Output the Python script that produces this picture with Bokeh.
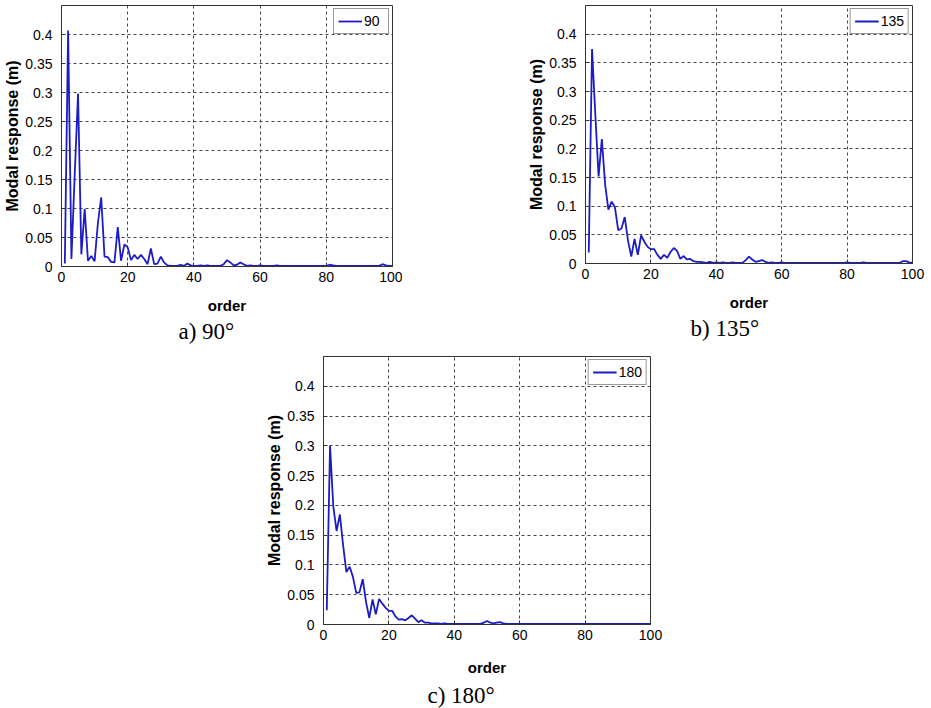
from bokeh.plotting import figure
from bokeh.layouts import column, row
from bokeh.models import Range1d, FixedTicker, CustomJSTickFormatter, Spacer
from bokeh.embed import file_html
from bokeh.resources import INLINE

orders = list(range(1, 101))

resp_90 = [0.005, 0.407, 0.013, 0.16, 0.298, 0.021, 0.099, 0.010, 0.018, 0.009,
           0.075, 0.119, 0.017, 0.016, 0.008, 0.007, 0.068, 0.010, 0.038, 0.033,
           0.011, 0.020, 0.013, 0.020, 0.013, 0.004, 0.031, 0.004, 0.005, 0.017,
           0.007, 0.002, 0.001, 0.001, 0.001, 0.003, 0.001, 0.005, 0.002, 0.001,
           0.001, 0.002, 0.001, 0.002, 0.001, 0.001, 0.001, 0.001, 0.004, 0.011,
           0.007, 0.002, 0.003, 0.007, 0.004, 0.001, 0.002, 0.001, 0.001, 0.002,
           0.001, 0.001, 0.001, 0.001, 0.002, 0.001, 0.001, 0.001, 0.001, 0.001,
           0.001, 0.001, 0.001, 0.001, 0.001, 0.001, 0.001, 0.001, 0.001, 0.001,
           0.003, 0.002, 0.001, 0.001, 0.001, 0.001, 0.001, 0.001, 0.001, 0.001,
           0.001, 0.001, 0.001, 0.001, 0.001, 0.001, 0.004, 0.002, 0.001, 0.001]

resp_135 = [0.019, 0.374, 0.26, 0.152, 0.217, 0.138, 0.094, 0.108, 0.098, 0.058,
            0.061, 0.081, 0.040, 0.012, 0.043, 0.015, 0.049, 0.038, 0.029, 0.025,
            0.025, 0.015, 0.008, 0.015, 0.010, 0.020, 0.027, 0.022, 0.008, 0.013,
            0.007, 0.008, 0.004, 0.003, 0.003, 0.002, 0.001, 0.003, 0.001, 0.002,
            0.001, 0.002, 0.001, 0.001, 0.002, 0.001, 0.001, 0.001, 0.006, 0.012,
            0.007, 0.003, 0.004, 0.006, 0.003, 0.001, 0.002, 0.001, 0.001, 0.002,
            0.001, 0.001, 0.001, 0.001, 0.001, 0.001, 0.001, 0.001, 0.001, 0.001,
            0.001, 0.001, 0.001, 0.001, 0.001, 0.001, 0.001, 0.001, 0.001, 0.002,
            0.001, 0.001, 0.001, 0.001, 0.002, 0.001, 0.001, 0.001, 0.001, 0.001,
            0.001, 0.001, 0.001, 0.001, 0.001, 0.001, 0.004, 0.004, 0.002, 0.001]

resp_180 = [0.024, 0.300, 0.198, 0.157, 0.185, 0.133, 0.088, 0.097, 0.080, 0.053,
            0.054, 0.076, 0.038, 0.011, 0.042, 0.017, 0.043, 0.035, 0.028, 0.023,
            0.023, 0.0135, 0.008, 0.009, 0.007, 0.011, 0.0155, 0.010, 0.004, 0.007,
            0.003, 0.003, 0.002, 0.002, 0.002, 0.001, 0.002, 0.001, 0.001, 0.001,
            0.001, 0.001, 0.001, 0.001, 0.001, 0.001, 0.001, 0.001, 0.003, 0.006,
            0.003, 0.002, 0.003, 0.004, 0.002, 0.001, 0.001, 0.001, 0.001, 0.001,
            0.001, 0.001, 0.001, 0.001, 0.001, 0.001, 0.001, 0.001, 0.001, 0.001,
            0.001, 0.001, 0.001, 0.001, 0.001, 0.001, 0.001, 0.001, 0.001, 0.001,
            0.001, 0.001, 0.001, 0.001, 0.001, 0.001, 0.001, 0.001, 0.001, 0.001,
            0.001, 0.001, 0.001, 0.001, 0.001, 0.001, 0.001, 0.001, 0.001, 0.001]

x_ticks = [0, 20, 40, 60, 80, 100]
y_ticks = [0, 0.05, 0.1, 0.15, 0.2, 0.25, 0.3, 0.35, 0.4]

LINE = "#1c1cc4"


def make_panel(ys, name, caption, fw, fh, bl, br, bt, bb, cap_offset,
               xlab_standoff, cap_standoff):
    p = figure(frame_width=fw, frame_height=fh, output_backend="svg", toolbar_location=None,
               x_range=Range1d(0, 100), y_range=Range1d(0, 0.45),
               min_border_left=bl, min_border_right=br, min_border_top=bt,
               min_border_bottom=bb, title=caption, title_location="below")
    p.line(orders, ys, line_color=LINE, line_width=1.8, legend_label=name)

    p.title.text_font = "Liberation Serif"
    p.title.text_font_size = "23px"
    p.title.text_font_style = "normal"
    p.title.text_color = "black"
    p.title.align = "left"
    p.title.offset = cap_offset
    p.title.standoff = cap_standoff

    p.outline_line_color = "#333333"
    p.outline_line_width = 1
    p.background_fill_color = "white"
    p.border_fill_color = "white"

    p.xaxis.ticker = FixedTicker(ticks=x_ticks)
    p.yaxis.ticker = FixedTicker(ticks=y_ticks)
    p.yaxis.formatter = CustomJSTickFormatter(code="return Number(tick.toFixed(2)).toString();")
    for ax in (p.xaxis, p.yaxis):
        ax.major_tick_in = 4
        ax.major_tick_out = 0
        ax.minor_tick_line_color = None
        ax.axis_line_color = "#333333"
        ax.major_tick_line_color = "#333333"
        ax.major_label_text_font = "Liberation Sans"
        ax.major_label_text_font_size = "14px"
        ax.major_label_text_color = "black"
        ax.axis_label_text_font = "Liberation Sans"
        ax.axis_label_text_font_style = "bold"
        ax.axis_label_text_color = "black"
    p.xaxis.axis_label = "order"
    p.xaxis.axis_label_text_font_size = "15px"
    p.xaxis.major_label_standoff = 5
    p.xaxis.axis_label_standoff = xlab_standoff
    p.yaxis.axis_label = "Modal response (m)"
    p.yaxis.axis_label_text_font_size = "16px"
    p.yaxis.major_label_standoff = 9
    p.yaxis.axis_label_standoff = 1

    p.grid.grid_line_color = "#444444"
    p.grid.grid_line_dash = "3 3"
    p.grid.grid_line_width = 1
    p.grid.grid_line_alpha = 1

    lg = p.legend[0]
    lg.location = "top_right"
    lg.margin = 3
    lg.padding = 4
    lg.spacing = 0
    lg.glyph_width = 24
    lg.glyph_height = 16
    lg.label_height = 16
    lg.label_standoff = 2
    lg.label_text_font = "Liberation Sans"
    lg.label_text_font_size = "14px"
    lg.label_text_color = "black"
    lg.border_line_color = "#333333"
    lg.border_line_width = 1
    lg.background_fill_color = "white"
    lg.background_fill_alpha = 1
    return p


pa = make_panel(resp_90, "90", "a) 90°", 331, 261, 61, 10, 5, 80, 117, 12, 0)
pb = make_panel(resp_135, "135", "b) 135°", 327, 258, 183, 19, 5, 83, 105, 12, 0)
pc = make_panel(resp_180, "180", "c) 180°", 327, 268, 61, 19, 10, 84, 104, 16, 4)

layout = column(row(pa, pb), row(Spacer(width=262, height=360), pc))

open("out.html", "w").write(file_html(layout, INLINE))
